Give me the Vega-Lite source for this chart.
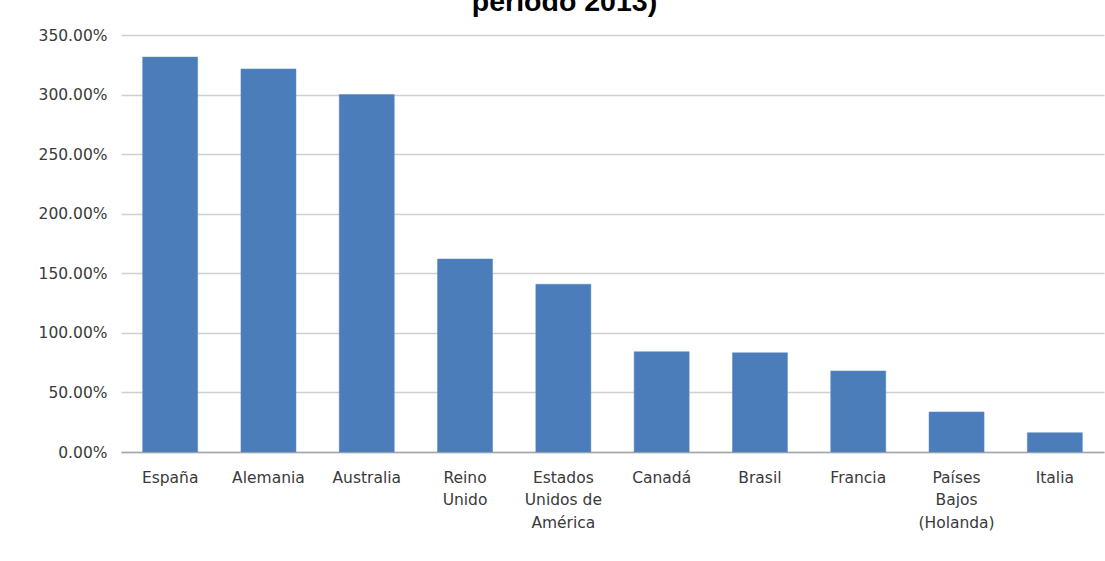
{
  "$schema": "https://vega.github.io/schema/vega-lite/v6.json",
  "autosize": {"type": "none"},
  "width": 983,
  "height": 417,
  "padding": {"left": 121, "top": 35, "right": 1, "bottom": 109},
  "background": "white",
  "title": {
    "text": "periodo 2013)",
    "font": "Liberation Sans",
    "fontSize": 28.5,
    "fontWeight": "bold",
    "color": "#000000",
    "anchor": "middle",
    "dx": -48,
    "dy": -8
  },
  "data": {
    "values": [
      {"pais": "España", "valor": 331.5},
      {"pais": "Alemania", "valor": 321.5},
      {"pais": "Australia", "valor": 300.0},
      {"pais": "Reino|Unido", "valor": 162.0},
      {"pais": "Estados|Unidos de|América", "valor": 140.8},
      {"pais": "Canadá", "valor": 84.2},
      {"pais": "Brasil", "valor": 83.3},
      {"pais": "Francia", "valor": 68.0},
      {"pais": "Países|Bajos|(Holanda)", "valor": 33.6},
      {"pais": "Italia", "valor": 16.2}
    ]
  },
  "mark": {"type": "bar", "color": "#4a7dba", "stroke": "#5a8ac4", "strokeWidth": 0.5},
  "encoding": {
    "x": {
      "field": "pais",
      "type": "nominal",
      "sort": null,
      "scale": {"paddingInner": 0.44, "paddingOuter": 0.22},
      "axis": {
        "title": null,
        "labelAngle": 0,
        "labelExpr": "split(datum.label, '|')",
        "labelFont": "DejaVu Sans",
        "labelFontSize": 15.5,
        "labelColor": "#3a3a3a",
        "labelLineHeight": 22.5,
        "labelPadding": 18,
        "ticks": false,
        "domain": true,
        "domainColor": "#a6a6a6",
        "domainWidth": 1.5,
        "grid": false
      }
    },
    "y": {
      "field": "valor",
      "type": "quantitative",
      "scale": {"domain": [0, 350], "nice": false},
      "axis": {
        "title": null,
        "values": [0, 50, 100, 150, 200, 250, 300, 350],
        "labelExpr": "format(datum.value, '.2f') + '%'",
        "labelFont": "DejaVu Sans",
        "labelFontSize": 15.5,
        "labelColor": "#3a3a3a",
        "labelPadding": 14,
        "ticks": false,
        "domain": false,
        "grid": true,
        "gridColor": "#cfcfcf",
        "gridWidth": 1.5
      }
    }
  },
  "config": {"view": {"stroke": null}}
}
